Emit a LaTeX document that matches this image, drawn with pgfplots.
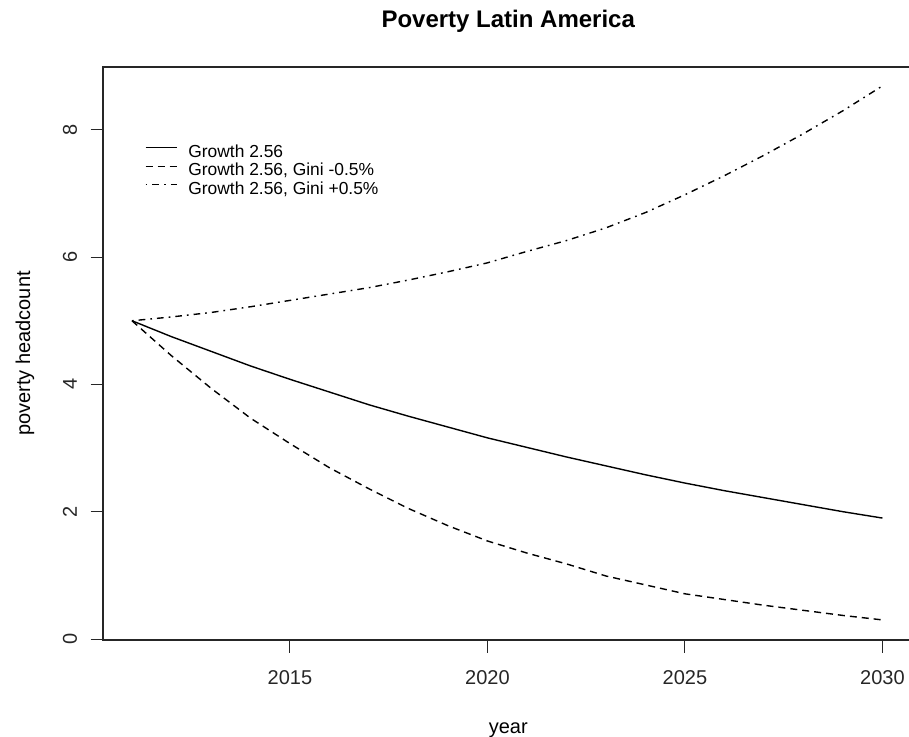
\documentclass[border=0pt]{standalone}
\usepackage{fontspec}
\setmainfont{Liberation Sans}
\usepackage{pgfplots}
\usepackage{pgfplotstable}
\pgfplotsset{compat=1.18}

% Projected poverty headcount under three scenarios
\pgfplotstableread{
year base giniminus giniplus
2011 5.00 5.00 5.00
2012 4.75 4.45 5.06
2013 4.52 3.94 5.13
2014 4.29 3.47 5.22
2015 4.08 3.07 5.32
2016 3.88 2.69 5.42
2017 3.68 2.36 5.52
2018 3.50 2.05 5.64
2019 3.33 1.78 5.77
2020 3.16 1.54 5.91
2021 3.01 1.35 6.09
2022 2.86 1.18 6.26
2023 2.72 0.99 6.46
2024 2.58 0.85 6.70
2025 2.45 0.71 6.98
2026 2.33 0.62 7.28
2027 2.22 0.53 7.60
2028 2.11 0.45 7.94
2029 2.00 0.37 8.30
2030 1.90 0.30 8.69
}\povdata

\newcommand{\basefont}{\fontsize{20}{24}\selectfont}

\begin{document}
\begin{tikzpicture}[x=1pt,y=1pt]
\useasboundingbox (0,0) rectangle (909,736);
\begin{axis}[
  at={(103pt,96pt)}, anchor=south west,
  scale only axis, width=810.5pt, height=573pt,
  xmin=2010.266, xmax=2030.786,
  ymin=-0.0157, ymax=8.987,
  xtick={2015,2020,2025,2030},
  ytick={0,2,4,6,8},
  xtick pos=bottom, ytick pos=left,
  tick align=outside,
  major tick length=12.5pt,
  tick style={line width=1pt, black!85},
  axis line style={line width=1.2pt, black!85},
  /pgf/number format/assume math mode=true,
  /pgf/number format/1000 sep={},
  tick label style={font=\basefont, black!85},
  xticklabel style={anchor=north},
  xticklabel shift=14pt,
  yticklabel style={rotate=90, anchor=south},
  yticklabel shift=10pt,
  xlabel={year},
  ylabel={poverty headcount},
  xlabel style={font=\basefont, at={(axis description cs:0.5,-0.157)}, anchor=center},
  ylabel style={font=\basefont, at={(axis description cs:-0.0962,0.5)}, anchor=center},
  title={Poverty Latin America},
  title style={font=\fontsize{24}{28}\selectfont\bfseries, at={(axis description cs:0.5,1.0698)}, anchor=center},
  legend cell align=left,
  legend style={
    at={(0.0518,0.8639)}, anchor=north west,
    draw=none, fill=none, inner sep=0pt, outer sep=0pt,
    font=\fontsize{17.4}{19}\selectfont,
    column sep=11pt, row sep=0pt,
    nodes={inner sep=0pt, text height=12.5pt, text depth=6pt},
  },
  legend image code/.code={\draw[#1] (0pt,6.5pt) -- (31pt,6.5pt);},
]
\addplot[black, line width=1.4pt] table[x=year, y=base] {\povdata};
\addlegendentry{Growth 2.56}
\addplot[black, line width=1.4pt, dash pattern=on 7pt off 5pt] table[x=year, y=giniminus] {\povdata};
\addlegendentry{Growth 2.56, Gini -0.5\%}
\addplot[black, line width=1.4pt, dash pattern=on 1.7pt off 5pt on 6.7pt off 5pt] table[x=year, y=giniplus] {\povdata};
\addlegendentry{Growth 2.56, Gini +0.5\%}
\end{axis}
\end{tikzpicture}
\end{document}
